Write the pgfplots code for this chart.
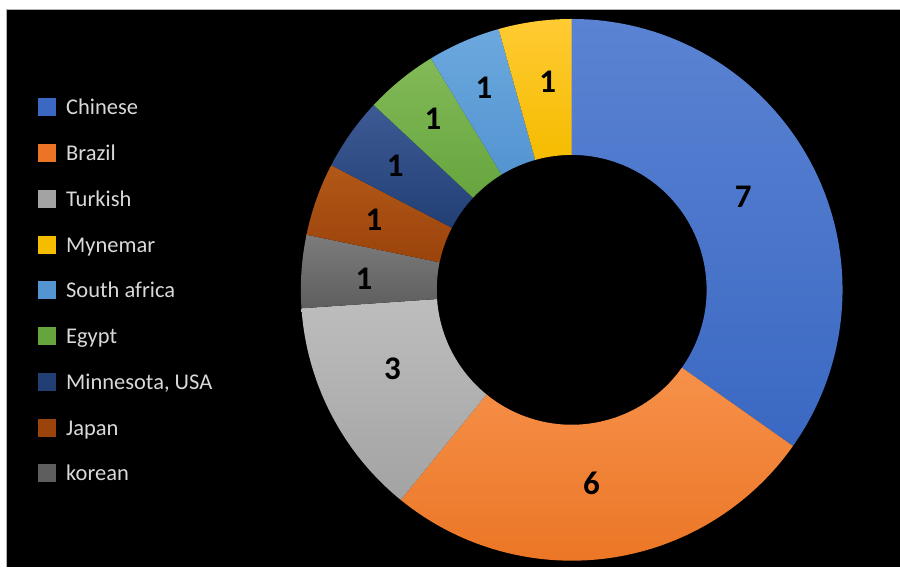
\documentclass[border=0pt]{standalone}
\usepackage{pgfplots}
\pgfplotsset{compat=1.18}
\usepackage{pgfplotstable}
\usepackage{fontspec}
\setmainfont{Carlito}

\definecolor{cChT}{HTML}{5B83D3}\definecolor{cChB}{HTML}{3A68C2}
\definecolor{cBrT}{HTML}{F6914A}\definecolor{cBrB}{HTML}{EB7524}
\definecolor{cTuT}{HTML}{BDBDBD}\definecolor{cTuB}{HTML}{A3A3A3}
\definecolor{cKoT}{HTML}{7C7C7C}\definecolor{cKoB}{HTML}{5E5E5E}
\definecolor{cJaT}{HTML}{B25818}\definecolor{cJaB}{HTML}{9A430B}
\definecolor{cMiT}{HTML}{3D5A94}\definecolor{cMiB}{HTML}{223F75}
\definecolor{cEgT}{HTML}{82BA57}\definecolor{cEgB}{HTML}{66A53E}
\definecolor{cSaT}{HTML}{6CA8DE}\definecolor{cSaB}{HTML}{5394D1}
\definecolor{cMyT}{HTML}{FFCB33}\definecolor{cMyB}{HTML}{F5BC00}
\definecolor{legtext}{HTML}{D9D9D9}

% arc = share of the ring as drawn; label = number printed on the slice
% lr, ld = radius and clockwise angle offset of the printed label
\pgfplotstableread[col sep=semicolon]{
name;arc;label;leg;col;lr;ld
Chinese;8;7;0;cCh;195;-1
Brazil;6;6;1;cBr;195;2
Turkish;3;3;2;cTu;196;3.5
korean;1;1;8;cKo;208;-1
Japan;1;1;7;cJa;210;0
Minnesota, USA;1;1;6;cMi;216;0
Egypt;1;1;5;cEg;220;0
South africa;1;1;4;cSa;220;0
Mynemar;1;1;3;cMy;210;1.3
}\donut

\begin{document}
\begin{tikzpicture}
\begin{axis}[x=1pt,y=1pt,xmin=0,xmax=900,ymin=0,ymax=567,
  hide axis,clip=false,scale only axis]
\pgfplotsextra{
  \fill[white] (axis cs:0,0) rectangle (axis cs:900,567);
  \fill[black] (axis cs:7,0) rectangle (axis cs:900,557);
  \draw[gray!60, line width=1pt] (axis cs:7,0) -- (axis cs:7,557) -- (axis cs:900,557);
  \pgfplotstablegetrowsof{\donut}\pgfmathtruncatemacro{\N}{\pgfplotsretval-1}
  \gdef\total{0}
  \foreach \i in {0,...,\N}{
    \pgfplotstablegetelem{\i}{arc}\of\donut
    \pgfmathsetmacro{\tt}{\total+\pgfplotsretval}\xdef\total{\tt}
  }
  \gdef\cum{0}
  \foreach \i in {0,...,\N}{
    \pgfplotstablegetelem{\i}{arc}\of\donut \pgfmathsetmacro{\v}{\pgfplotsretval}
    \pgfplotstablegetelem{\i}{label}\of\donut \edef\lab{\pgfplotsretval}
    \pgfplotstablegetelem{\i}{leg}\of\donut \pgfmathsetmacro{\k}{\pgfplotsretval}
    \pgfplotstablegetelem{\i}{col}\of\donut \edef\cn{\pgfplotsretval}
    \pgfplotstablegetelem{\i}{name}\of\donut \edef\nm{\pgfplotsretval}
    \pgfplotstablegetelem{\i}{lr}\of\donut \pgfmathsetmacro{\lr}{\pgfplotsretval}
    \pgfplotstablegetelem{\i}{ld}\of\donut \pgfmathsetmacro{\ld}{\pgfplotsretval}
    \pgfmathsetmacro{\aA}{90-360*\cum/\total}
    \pgfmathsetmacro{\aB}{90-360*(\cum+\v)/\total}
    \pgfmathsetmacro{\aM}{(\aA+\aB)/2-\ld}
    \pgfmathsetmacro{\xo}{572+271*cos(\aA)}
    \pgfmathsetmacro{\yo}{277+271*sin(\aA)}
    \pgfmathsetmacro{\xin}{572+135*cos(\aB)}
    \pgfmathsetmacro{\yin}{277+135*sin(\aB)}
    \pgfmathsetmacro{\xl}{572+\lr*cos(\aM)}
    \pgfmathsetmacro{\yl}{277+\lr*sin(\aM)}
    \path[top color=\cn T, bottom color=\cn B]
      (axis cs:\xo,\yo) arc[start angle=\aA, end angle=\aB, radius=271pt]
      -- (axis cs:\xin,\yin) arc[start angle=\aB, end angle=\aA, radius=135pt] -- cycle;
    \node[font=\fontsize{33}{36}\selectfont\bfseries, text=black] at (axis cs:\xl,\yl) {\lab};
    \pgfmathsetmacro{\ly}{567-(107.5+45.75*\k)}
    \fill[\cn B] (axis cs:38,\ly-9) rectangle (axis cs:56,\ly+9);
    \node[anchor=base west, inner sep=0pt, text=legtext, font=\fontsize{22.5}{26}\selectfont]
      at (axis cs:66,\ly-7.5) {\nm};
    \pgfmathsetmacro{\nc}{\cum+\v}\xdef\cum{\nc}
  }
}
\end{axis}
\end{tikzpicture}
\end{document}
